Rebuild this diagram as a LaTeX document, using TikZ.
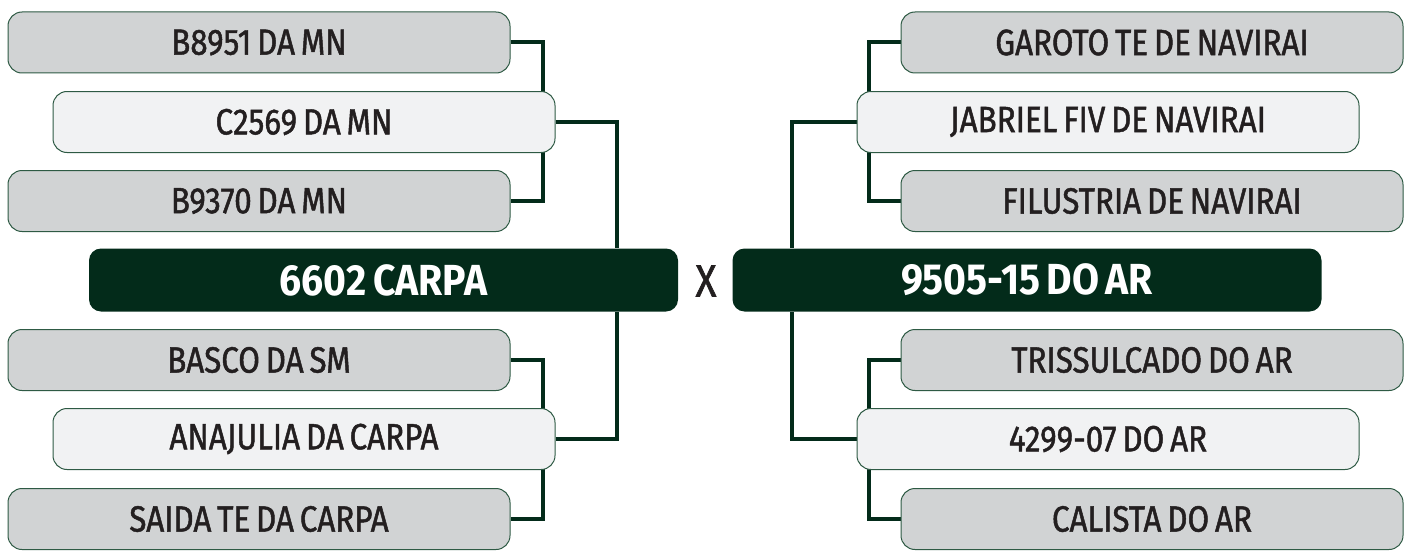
\documentclass[tikz,border=0pt]{standalone}
\usepackage{fontspec}
\setmainfont{Fira Sans}[FakeStretch=0.86, FakeBold=1.3, WordSpace=0.7]
\newfontfamily\mainboxfont{Fira Sans Bold}[FakeStretch=0.9, WordSpace=0.7]
\usetikzlibrary{backgrounds}
\definecolor{dkgreen}{HTML}{032B1A}
\definecolor{edgec}{HTML}{2E5A44}
\definecolor{grayf}{HTML}{D1D3D4}
\definecolor{lightf}{HTML}{F1F2F3}
\definecolor{txt}{HTML}{231F20}
\tikzset{
  side/.style={draw=edgec, line width=1pt, rounded corners=14pt, minimum width=502pt,
    minimum height=61pt, inner sep=0pt, text=txt, font=\fontsize{36.5}{38}\selectfont},
  grayb/.style={side, fill=grayf},
  lightb/.style={side, fill=lightf},
  mainb/.style={fill=dkgreen, rounded corners=12pt, minimum width=589pt, minimum height=63pt,
    inner sep=0pt, text=white, font=\fontsize{43.5}{45}\selectfont\mainboxfont},
  link/.style={draw=dkgreen, line width=4pt},
}
\begin{document}
\begin{tikzpicture}[x=1pt,y=-1pt]
\useasboundingbox (0,0) rectangle (1411,551);
% left
\node[grayb]  (b1) at (259,42.5)  {B8951 DA MN};
\node[lightb] (c1) at (304,122)   {C2569 DA MN};
\node[grayb]  (b2) at (259,201)   {B9370 DA MN};
\node[mainb]  (m1) at (383.5,280) {6602 CARPA};
\node[grayb]  (b3) at (259,360)   {BASCO DA SM};
\node[lightb] (c2) at (304,439)   {ANAJULIA DA CARPA};
\node[grayb]  (b4) at (259,519)   {SAIDA TE DA CARPA};
% right
\node[grayb]  (r1) at (1152,42.5) {GAROTO TE DE NAVIRAI};
\node[lightb] (s1) at (1108,122)  {JABRIEL FIV DE NAVIRAI};
\node[grayb]  (r2) at (1152,201)  {FILUSTRIA DE NAVIRAI};
\node[mainb]  (m2) at (1027,280)  {9505-15 DO AR};
\node[grayb]  (r3) at (1152,360)  {TRISSULCADO DO AR};
\node[lightb] (s2) at (1108,439)  {4299-07 DO AR};
\node[grayb]  (r4) at (1152,519)  {CALISTA DO AR};
\node[text=txt, font=\fontsize{45}{47}\selectfont, inner sep=0pt] (x) at (706,281) {X};
\begin{scope}[on background layer]
\draw[link] (b1.east) -- ++(32,0) |- (b2.east);
\draw[link] (c1.east) -| (617,0 |- m1.north);
\draw[link] (c2.east) -| (617,0 |- m1.south);
\draw[link] (b3.east) -- ++(32,0) |- (b4.east);
\draw[link] (r1.west) -- ++(-32,0) |- (r2.west);
\draw[link] (s1.west) -| (792,0 |- m2.north);
\draw[link] (s2.west) -| (792,0 |- m2.south);
\draw[link] (r3.west) -- ++(-32,0) |- (r4.west);
\end{scope}
\end{tikzpicture}
\end{document}
